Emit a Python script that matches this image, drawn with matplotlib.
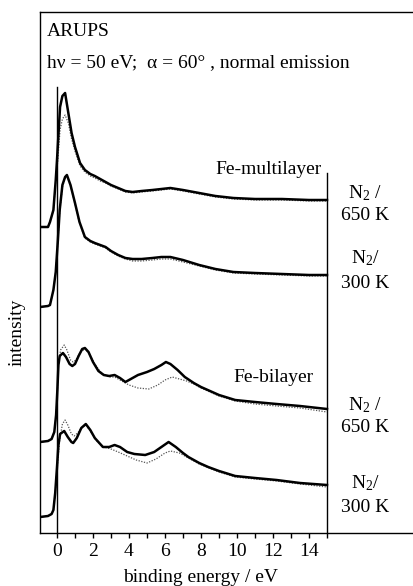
import matplotlib
matplotlib.use("Agg")
import matplotlib.pyplot as plt

plt.rcParams['font.family'] = ['Liberation Serif', 'DejaVu Serif']
plt.rcParams['mathtext.fontset'] = 'custom'
plt.rcParams['mathtext.rm'] = 'Liberation Serif'
plt.rcParams['mathtext.it'] = 'Liberation Serif:italic'

# ---------------- data (binding energy in eV, intensity in arb. units above each baseline)
E_ml650 = [-0.94, -0.5, -0.39, -0.2, -0.07, 0.0, 0.17, 0.3, 0.45, 0.63, 0.81, 1.0, 1.28, 1.55, 1.85,
           2.1, 2.4, 2.7, 3.0, 3.4, 3.8, 4.2, 4.7, 5.3, 5.8, 6.3, 7.0, 7.9, 8.8, 9.8, 11, 12.5, 14, 15]
I_ml650_solid = [0, 0, 5, 17, 47, 67, 120, 131, 134, 114, 94, 80, 64, 57, 53,
                 51, 48, 45, 42, 39, 36, 35, 36, 37, 38, 39, 37, 34, 31, 29, 28, 28, 27, 27]
I_ml650_dot = [0, 0, 5, 17, 45, 57, 97, 108, 112, 104, 88, 76, 61, 55, 51,
               49, 46, 44, 41, 38, 35, 34, 35, 36, 37, 38, 36, 33, 30, 28, 27, 27, 26, 26]

E_ml300 = [-0.94, -0.5, -0.39, -0.2, -0.07, 0.05, 0.15, 0.3, 0.45, 0.55, 0.75, 1.0, 1.25, 1.55, 1.85,
           2.1, 2.4, 2.7, 3.0, 3.4, 3.8, 4.2, 4.7, 5.3, 5.8, 6.3, 7.0, 7.9, 8.8, 9.8, 11, 12.5, 14, 15]
I_ml300_solid = [0, 1, 2, 17, 35, 67, 97, 122, 130, 132, 122, 104, 85, 70, 66,
                 64, 62, 60, 56, 52, 49, 48, 48, 49, 50, 50, 47, 42, 38, 35, 34, 33, 32, 32]
I_ml300_dot = [0, 1, 2, 17, 35, 66, 95, 120, 129, 131, 121, 103, 84, 69, 65,
               63, 61, 59, 55, 51, 48, 46, 46, 47, 48, 48, 45, 41, 37, 34, 33, 32, 31, 31]

E_bl650_solid = [-0.94, -0.5, -0.3, -0.15, -0.05, 0.02, 0.08, 0.15, 0.33, 0.5, 0.7, 0.85, 1.0, 1.2, 1.4,
                 1.55, 1.75, 2.0, 2.3, 2.6, 2.9, 3.2, 3.5, 3.8, 4.1, 4.5, 5.0, 5.4, 5.8, 6.05, 6.3, 6.7,
                 7.1, 7.6, 8.0, 8.5, 9.0, 9.9, 11, 12.2, 13.5, 15]
I_bl650_solid = [0, 1, 3, 10, 27, 52, 77, 86, 89, 85, 78, 76, 78, 86, 93,
                 94, 90, 80, 71, 67, 66, 67, 64, 60, 63, 67, 70, 73, 77, 80, 78, 72,
                 65, 59, 55, 51, 47, 42, 40, 38, 36, 33]
E_bl650_dot = [-0.94, -0.5, -0.3, -0.15, -0.05, 0.02, 0.08, 0.2, 0.4, 0.55, 0.75, 0.9, 1.05, 1.3, 1.55,
               1.8, 2.1, 2.5, 2.9, 3.2, 3.6, 4.0, 4.5, 5.1, 5.6, 6.0, 6.4, 6.8, 7.2, 7.6, 8.0, 9.0,
               9.9, 11, 12.2, 13.5, 15]
I_bl650_dot = [0, 1, 3, 10, 27, 50, 77, 92, 97, 92, 82, 80, 82, 90, 93,
               88, 78, 68, 65, 65, 61, 57, 54, 53, 57, 62, 65, 63, 61, 58, 54, 46,
               41, 38, 36, 34, 30]

E_bl300_solid = [-0.94, -0.5, -0.3, -0.2, -0.1, 0.0, 0.08, 0.17, 0.4, 0.6, 0.8, 0.9, 1.1, 1.35, 1.6,
                 1.85, 2.1, 2.55, 2.9, 3.2, 3.5, 3.9, 4.3, 4.9, 5.4, 5.8, 6.2, 6.6, 7.0, 7.3, 7.9, 8.4,
                 9.0, 9.9, 11, 12.2, 13.5, 15]
I_bl300_solid = [-1, 0, 2, 6, 23, 49, 71, 82, 85, 79, 74, 73, 78, 88, 92,
                 86, 78, 69, 69, 71, 69, 64, 62, 61, 64, 69, 74, 69, 63, 59, 53, 49,
                 45, 40, 38, 36, 33, 31]
E_bl300_dot = [-0.94, -0.5, -0.3, -0.2, -0.1, 0.0, 0.15, 0.3, 0.45, 0.6, 0.8, 0.95, 1.15, 1.4, 1.6,
               1.85, 2.2, 2.6, 3.0, 3.4, 3.9, 4.4, 5.0, 5.5, 6.0, 6.3, 6.8, 7.3, 7.9, 9.0, 9.9, 11,
               12.2, 13.5, 15]
I_bl300_dot = [-1, 0, 2, 6, 23, 46, 76, 92, 96, 91, 82, 80, 83, 89, 91,
               85, 75, 69, 67, 64, 60, 56, 53, 57, 63, 65, 63, 58, 52, 44, 39, 37,
               35, 32, 29]

offsets = {'ml650': 306, 'ml300': 226, 'bl650': 91, 'bl300': 17}

xticks = list(range(0, 16))
xticklabels = [str(t) if (t % 2 == 0 and t < 15) else '' for t in xticks]

# ---------------- figure
W, H = 413, 586
fig = plt.figure(figsize=(W / 100, H / 100), dpi=100)
ax = fig.add_axes([40 / W, (H - 533) / H, (W - 40) / W, (533 - 12) / H])

E_left = (40 - 57) / 18.0
E_right = (W - 57) / 18.0
ax.set_xlim(E_left, E_right)
ax.set_ylim(0, 521)

solid_kw = dict(color='black', lw=1.8, solid_joinstyle='round')
dot_kw = dict(color='#555555', lw=0.9, ls=(0, (1, 1.2)))

def draw(E, I, off, kw):
    ax.plot(E, [v + off for v in I], **kw)

draw(E_ml650, I_ml650_dot, offsets['ml650'], dot_kw)
draw(E_ml650, I_ml650_solid, offsets['ml650'], solid_kw)
draw(E_ml300, I_ml300_dot, offsets['ml300'], dot_kw)
draw(E_ml300, I_ml300_solid, offsets['ml300'], solid_kw)
draw(E_bl650_dot, I_bl650_dot, offsets['bl650'], dot_kw)
draw(E_bl650_solid, I_bl650_solid, offsets['bl650'], solid_kw)
draw(E_bl300_dot, I_bl300_dot, offsets['bl300'], dot_kw)
draw(E_bl300_solid, I_bl300_solid, offsets['bl300'], solid_kw)

# reference lines at 0 eV and 15 eV
ax.plot([0, 0], [0, 446], color='black', lw=1.0)
ax.plot([15, 15], [0, 360], color='black', lw=1.0)

# spines / ticks
for s in ['left', 'top', 'bottom']:
    ax.spines[s].set_linewidth(1.0)
ax.spines['right'].set_visible(False)
ax.set_yticks([])
ax.set_xticks(xticks)
ax.set_xticklabels(xticklabels, fontsize=14)
ax.tick_params(axis='x', direction='out', length=3.5, width=1.0, pad=3.5)

# texts
fs = 14
ax.text(E_left + 7 / 18, 533 - 32, 'ARUPS', fontsize=fs, ha='left', va='center')
ax.text(E_left + 7 / 18, 533 - 63, 'h\u03bd = 50 eV;  \u03b1 = 60\u00b0 , normal emission',
        fontsize=fs, ha='left', va='center')
ax.text((322 - 57) / 18, 533 - 170, 'Fe-multilayer', fontsize=fs, ha='right', va='center')
ax.text((273 - 57) / 18, 533 - 377, 'Fe-bilayer', fontsize=fs, ha='center', va='center')

xl = (365 - 57) / 18
for top_txt, bot_txt, yt, yb in [('N$_2$ /', '650 K', 193, 215),
                                  ('N$_2$/', '300 K', 258, 283),
                                  ('N$_2$ /', '650 K', 405, 428),
                                  ('N$_2$/', '300 K', 483, 508)]:
    ax.text(xl, 533 - yt, top_txt, fontsize=fs, ha='center', va='center')
    ax.text(xl, 533 - yb, bot_txt, fontsize=fs, ha='center', va='center')

fig.text(201 / W, 1 - 577 / H, 'binding energy / eV', fontsize=fs, ha='center', va='center')
fig.text(17 / W, 1 - 332 / H, 'intensity', fontsize=fs, ha='center', va='center', rotation=90)

fig.savefig('out.png', dpi=100)
